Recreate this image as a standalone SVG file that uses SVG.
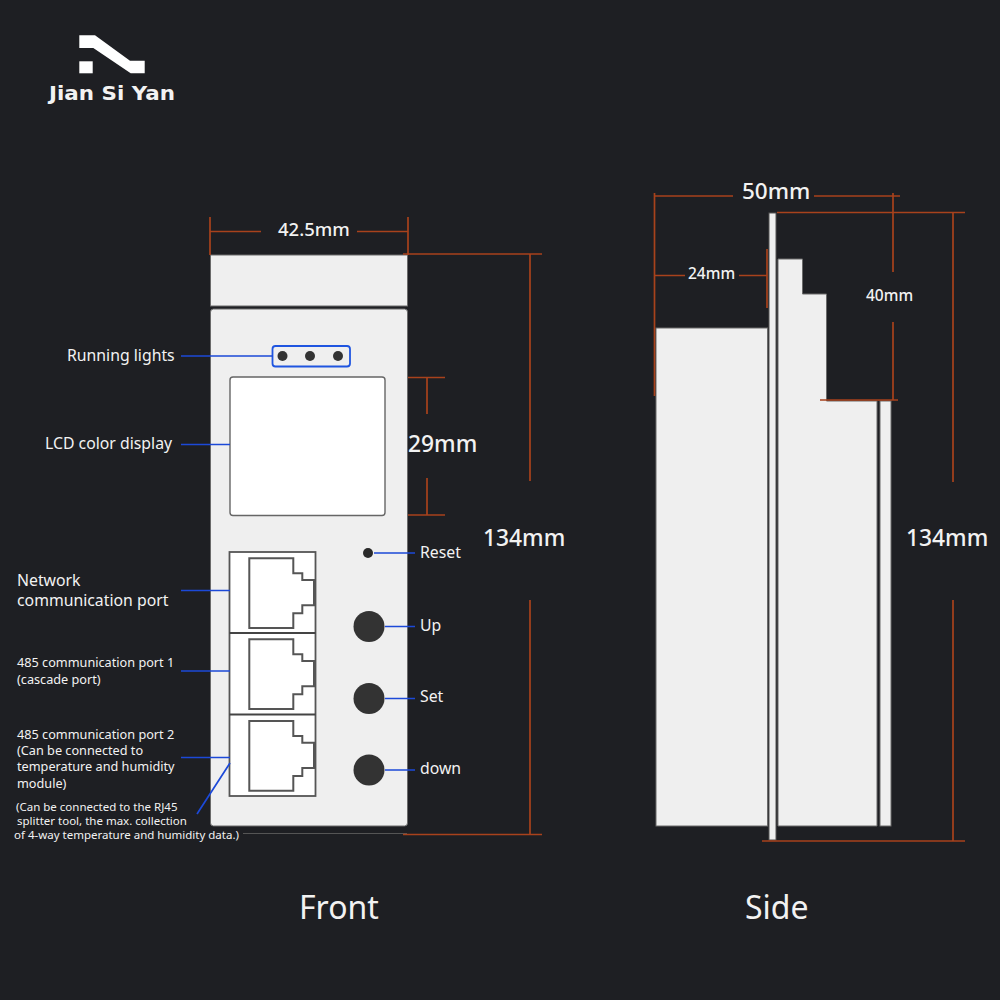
<svg xmlns="http://www.w3.org/2000/svg" width="1000" height="1000" viewBox="0 0 1000 1000">
<style>
text{font-family:"Noto Sans","Liberation Sans",sans-serif;fill:#f2f2f2}
.dim{stroke:#a8421c;stroke-width:1.7;fill:none}
.lead{stroke:#1c49d8;stroke-width:1.7;fill:none}
.panel{fill:#efefef;stroke:#6a6a6a;stroke-width:1}
.jack{fill:#fff;stroke:#555;stroke-width:2}
.btn{fill:#333}
.l16{font-size:15.800px}.l13{font-size:12.700px}.l12{font-size:11.500px}
.big{font-size:22.800px;font-weight:500}
.cap{font-size:32px}
</style>
<defs>
<path id="jack" class="jack" d="M249.300 558.300H293.300V573.300H302.300V580H314V605.300H302.300V613.300H293.300V628H249.300Z"/>
</defs>
<rect width="1000" height="1000" fill="#1e1f23"/>
<g id="logo">
<path fill="#fff" d="M79.300 35.300H95L130 60.700H144.700V73.300H130.700L93.300 48H79.300Z"/>
<rect x="79.300" y="61.300" width="13.400" height="12" fill="#fff"/>
<text x="49" y="100" font-size="19" font-weight="700" textLength="126" lengthAdjust="spacingAndGlyphs" style="font-family:'DejaVu Sans',sans-serif">Jian Si Yan</text>
</g>
<g id="front">
<rect id="top-piece" class="panel" x="210.500" y="255" width="197" height="51"/>
<rect id="body" class="panel" x="210.500" y="309" width="197" height="517" rx="3"/>
<g id="running-lights">
<rect x="272.500" y="346" width="77.500" height="20.500" rx="3" fill="none" stroke="#1f55e0" stroke-width="1.800"/>
<circle class="btn" cx="282.500" cy="356" r="5"/><circle class="btn" cx="310" cy="356" r="5"/><circle class="btn" cx="338" cy="356" r="5"/>
<text class="l16" x="67" y="361">Running lights</text>
</g>
<g id="lcd">
<rect x="230" y="377" width="155" height="138.500" rx="3" fill="#fff" stroke="#666" stroke-width="1.400"/>
<text class="l16" x="45" y="449">LCD color display</text>
</g>
<g id="ports">
<rect x="229.500" y="552" width="86" height="244" fill="#fff" stroke="#555" stroke-width="1.800"/>
<path d="M229.500 633H315.500M229.500 714.500H315.500" stroke="#444" stroke-width="1.800"/>
<use href="#jack"/><use href="#jack" y="81"/><use href="#jack" y="162.700"/>
</g>
<g id="network-port"><text class="l16" x="17" y="586">Network</text><text class="l16" x="17" y="606">communication port</text></g>
<g id="port-1"><text class="l13" x="17" y="667">485 communication port 1</text><text class="l13" x="17" y="684">(cascade port)</text></g>
<g id="port-2"><text class="l13" x="17" y="739">485 communication port 2</text><text class="l13" x="17" y="755">(Can be connected to</text><text class="l13" x="17" y="771">temperature and humidity</text><text class="l13" x="17" y="788">module)</text></g>
<g id="splitter-note"><text class="l12" x="16" y="811">(Can be connected to the RJ45</text><text class="l12" x="17" y="825">splitter tool, the max. collection</text><text class="l12" x="14" y="839">of 4-way temperature and humidity data.)</text></g>
<g id="reset"><circle cx="368" cy="553" r="5" fill="#2a2a2a"/><text class="l16" x="420" y="558">Reset</text></g>
<g id="up"><circle class="btn" cx="369" cy="626.500" r="15.500"/><text class="l16" x="420" y="631">Up</text></g>
<g id="set"><circle class="btn" cx="369" cy="698.500" r="15.500"/><text class="l16" x="420" y="702">Set</text></g>
<g id="down"><circle class="btn" cx="369" cy="770" r="15.500"/><text class="l16" x="420" y="774">down</text></g>
<g id="front-labels">
<text class="big" x="278" y="236" style="font-size:18.500px">42.5mm</text>
<text class="big" x="408" y="452">29mm</text>
<text class="big" x="483" y="546">134mm</text>
<text class="cap" x="299" y="919">Front</text>
</g>
</g>
<g id="side">
<rect class="panel" x="656" y="328" width="111.500" height="498"/>
<rect x="769" y="213" width="7" height="627" fill="#efefef" stroke="#555" stroke-width="1"/>
<path class="panel" d="M778 259H802.500V294H826.500V401H877V826H778Z"/>
<rect class="panel" x="880" y="401" width="11" height="425"/>
<text x="742" y="199" style="font-size:22.500px;font-weight:500">50mm</text>
<text x="688" y="279" style="font-size:15.500px;font-weight:500">24mm</text>
<text x="866" y="301" style="font-size:15.500px;font-weight:500">40mm</text>
<text class="big" x="906" y="546">134mm</text>
<text class="cap" x="745" y="919">Side</text>
</g>
<g id="connectors">
<path class="lead" d="M181 356H272.500M181 444.500H230M181 590.500H230M181 671H230M181 757.500H230M230 763L197 814M374 553H415M385 626.500H415M385 698.500H415M385 770H415"/>
<path d="M243 833.500H407" stroke="#555" stroke-width="1"/>
<path class="dim" d="M210 217V255M408 217V255M210 231.500H261M357 231.500H408"/>
<path class="dim" d="M403 254H542M530 254V481M530 600V834M403 834.500H542"/>
<path class="dim" d="M408 377.500H445M408 515H445M427 378V414M427 478V515"/>
<path class="dim" d="M654.500 193V396M655 196H733M814 196H900M893 193V272M893 322V400M820 400H898"/>
<path class="dim" d="M655 275.500H685M739 275.500H767M767 249V308"/>
<path class="dim" d="M777 212.500H965M953 212V482M953 600V841M762 841H965"/>
</g>
</svg>
